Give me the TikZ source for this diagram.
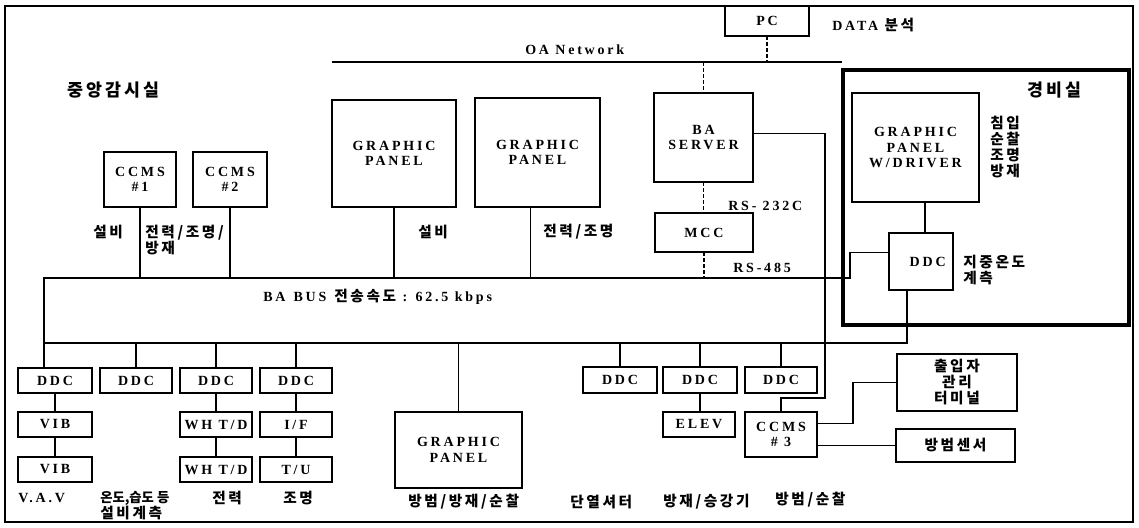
\documentclass[tikz,border=0pt]{standalone}
\usepackage{fontspec}
\newfontfamily\latfam{Liberation Serif}[LetterSpace=20]
\newfontfamily\krfam{Noto Sans CJK KR}[LetterSpace=18]
\newfontfamily\krtight{Noto Sans CJK KR}
\usetikzlibrary{calc}
\newcommand\lfnt{\latfam\bfseries\fontsize{10.5}{11.5}\selectfont}
\newcommand\kfnt{\krfam\bfseries\fontsize{11}{12}\selectfont}
\newcommand\kfntL{\krfam\bfseries\fontsize{13}{14}\selectfont}
\newcommand\kfntT{\krtight\bfseries\fontsize{10}{12}\selectfont}
\newcommand\bx[7][]{\node[box,#1,minimum width={(#5-#3)*0.75pt},minimum height={(#6-#4)*0.75pt}] (#2) at ({(#3+#5)/2},{(#4+#6)/2}) {#7};}
\begin{document}
\begin{tikzpicture}[x=0.75pt,y=-0.75pt,
  box/.style={draw, line width=1.1pt, inner sep=0pt, outer sep=0pt, align=center, font=\lfnt},
  ln/.style={line width=1.1pt},
  thn/.style={line width=0.9pt},
  dsh/.style={line width=0.9pt, dash pattern=on 3pt off 1.5pt},
  lab/.style={inner sep=0pt, anchor=west, align=left, font=\kfnt}]
\useasboundingbox (0,0) rectangle (1139,528);
\draw[line width=1.2pt] (5,6) rectangle (1133,522);
% security room
\draw[line width=3pt] (843,70) rectangle (1129,325);

% boxes
\bx{pc}{725}{6}{809}{36}{PC}
\bx{gp1}{332}{100}{456}{207}{GRAPHIC\\PANEL}
\bx{gp2}{475}{98}{600}{207}{GRAPHIC\\PANEL}
\bx{srv}{654}{93}{753}{182}{BA\\SERVER}
\bx{mcc}{655}{213}{753}{252}{MCC}
\bx{c1}{104}{152}{176}{207}{CCMS\\\#1}
\bx{c2}{193}{152}{267}{207}{CCMS\\\#2}
\bx{gpw}{852}{93}{979}{202}{GRAPHIC\\PANEL\\W/DRIVER}
\bx{ddcg}{889}{233}{953}{290}{\hspace*{10pt}DDC}
\bx{d1}{18}{368}{92}{393}{DDC}
\bx{d2}{100}{368}{172}{393}{DDC}
\bx{d3}{180}{368}{252}{393}{DDC}
\bx{d4}{260}{368}{332}{393}{DDC}
\bx{v1}{18}{412}{92}{437}{VIB}
\bx{v2}{18}{457}{92}{482}{VIB}
\bx{w1}{180}{412}{252}{437}{WH T/D}
\bx{w2}{180}{457}{252}{482}{WH T/D}
\bx{if}{260}{412}{332}{437}{I/F}
\bx{tu}{260}{457}{332}{482}{T/U}
\bx{gp3}{395}{412}{522}{488}{GRAPHIC\\PANEL}
\bx{d5}{583}{367}{657}{393}{DDC}
\bx{d6}{663}{367}{737}{393}{DDC}
\bx{d7}{745}{367}{817}{393}{DDC}
\bx{elev}{663}{412}{735}{437}{ELEV}
\bx{c3}{745}{412}{817}{457}{CCMS\\\# 3}
\bx[font=\kfnt]{term}{897}{354}{1017}{411}{출입자\\관리\\터미널}
\bx[font=\kfnt]{sens}{896}{429}{1015}{462}{방범센서}

% coordinates
\coordinate (oaL) at (332,62);
\coordinate (oaR) at (842,62);
\coordinate (bTL) at (44,278);
\coordinate (bTR) at (850,278);
\coordinate (bBL) at (44,343);
\coordinate (sc) at (825,398);
\coordinate (tj) at (853,0);
\path ($(gp2.south)+(-7,0)$) coordinate (g2);
\path ($(ddcg.west)+(0,-9)$) coordinate (rsin);
\path ($(ddcg.south)+(-14,0)$) coordinate (ddcgS);
\path ($(ddcg.north)+(4,0)$) coordinate (ddcgN);
\path ($(srv.east)+(0,-4)$) coordinate (srvE);
\path ($(c3.east)+(0,-11)$) coordinate (c3a);
\path ($(c3.east)+(0,11)$) coordinate (c3b);

% OA network
\draw[thn] (oaL) -- (oaR);
\draw[dsh] (pc.south) -- (pc.south |- oaL);
\draw[dsh] (srv.north |- oaL) -- (srv.north);
\draw[dsh] (srv.south) -- (srv.south |- mcc.north);
\draw[dsh] (mcc.south) -- (mcc.south |- bTL);

% BA bus
\draw[ln] (d1.north -| bTL) -- (bTL) -- (bTR) -- (bTR |- rsin) -- (rsin);
\draw[ln] (bBL) -- (bBL -| ddcgS) -- (ddcgS);

% drops to bus top
\draw[ln] (c1.south) -- (c1.south |- bTL);
\draw[ln] (c2.south) -- (c2.south |- bTL);
\draw[ln] (gp1.south) -- (gp1.south |- bTL);
\draw[ln] (g2) -- (g2 |- bTL);

% drops from bus bottom
\foreach \n in {d2,d3,d4,gp3,d5,d6,d7}{
  \draw[ln] (\n.north) -- (\n.north |- bBL);
}
% chains
\draw[ln] (d1.south) -- (v1.north);
\draw[ln] (v1.south) -- (v2.north);
\draw[ln] (d3.south) -- (w1.north);
\draw[ln] (w1.south) -- (w2.north);
\draw[ln] (d4.south) -- (if.north);
\draw[ln] (if.south) -- (tu.north);
\draw[ln] (d6.south) -- (d6.south |- elev.north);
\draw[ln] (ddcgN) -- (ddcgN |- gpw.south);

% server to CCMS #3
\draw[thn] (srvE) -| (sc) -| (c3.north);
% CCMS #3 to terminal and sensor
\draw[ln] (c3a) -| (tj |- term.west) -- (term.west);
\draw[ln] (c3b) -- (c3b -| sens.west);

% labels
\node[lab,font=\kfntL] (l1) at (67,90) {중앙감시실};
\node[lab,font=\lfnt] (l2) at (525,50) {OA Network};
\node[lab,font=\lfnt] (l3) at (832,25) {DATA {\kfnt 분석}};
\node[lab,font=\kfntL] (l4) at (1027,90) {경비실};
\node[lab] (l5) at (990,147) {침입\\순찰\\조명\\방재};
\node[lab,font=\lfnt] (l6) at (728,206) {RS- 232C};
\node[lab,font=\lfnt] (l7) at (733,268) {RS-485};
\node[lab] (l8) at (963,270) {지중온도\\계측};
\node[lab] (l9) at (93,232) {설비};
\node[lab] (l10) at (145,240) {전력/조명/\\방재};
\node[lab] (l11) at (418,232) {설비};
\node[lab] (l12) at (543,232) {전력/조명};
\node[lab,font=\lfnt] (l13) at (263,297) {BA\hspace{6pt}BUS\hspace{6pt}{\kfnt 전송속도} : 62.5 kbps};
\node[lab,font=\lfnt] (l14) at (18,498) {V.A.V};
\node[lab] (l15) at (100,506) {{\kfntT 온도,습도 등}\\설비계측};
\node[lab] (l16) at (212,498) {전력};
\node[lab] (l17) at (283,498) {조명};
\node[lab] (l18) at (408,502) {방범/방재/순찰};
\node[lab] (l19) at (570,502) {단열셔터};
\node[lab] (l20) at (663,502) {방재/승강기};
\node[lab] (l21) at (775,500) {방범/순찰};
\end{tikzpicture}
\end{document}
